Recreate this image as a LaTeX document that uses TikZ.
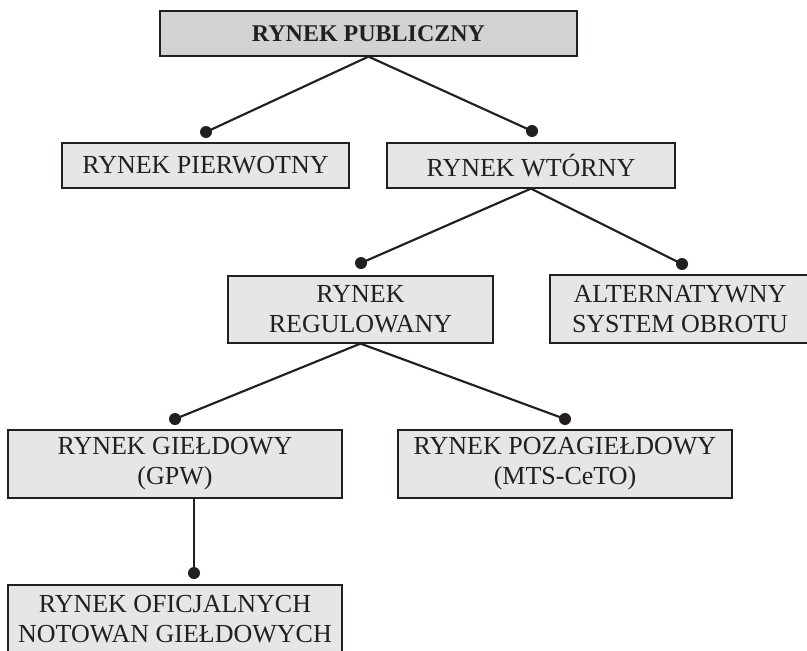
\documentclass[tikz,border=0pt]{standalone}
\usepackage{fontspec}
\setmainfont{Liberation Serif}
\definecolor{boxfill}{HTML}{E6E6E7}
\definecolor{topfill}{HTML}{D2D2D3}
\definecolor{ink}{HTML}{231F20}
\tikzset{
  box/.style={draw=ink, line width=0.9pt, fill=boxfill, text=ink, align=center, inner sep=0pt,
    font=\fontsize{19.5}{22.5}\selectfont},
  topbox/.style={box, fill=topfill, font=\fontsize{18}{21}\selectfont\bfseries},
  conn/.style={draw=ink, line width=1.6pt},
  dotmark/.style={circle, fill=ink, inner sep=0pt, minimum size=9pt}
}
\begin{document}
\begin{tikzpicture}[x=0.75pt, y=-0.75pt]
\useasboundingbox (0,0) rectangle (807,650);
\fill[white] (0,0) rectangle (807,650);

\node[topbox, minimum width=312.75pt, minimum height=33.75pt] (pub) at (368.5,33.5) {RYNEK PUBLICZNY};
\node[box, minimum width=215.25pt, minimum height=33.75pt] (pier) at (205.5,165.5) {RYNEK PIERWOTNY};
\node[box, minimum width=216pt, minimum height=33.75pt] (wtor) at (531,165.5) {RYNEK WTÓRNY};
\node[box, minimum width=198.75pt, minimum height=50.25pt] (reg) at (360.5,309.5) {RYNEK\\REGULOWANY};
\node[box, minimum width=195pt, minimum height=51pt] (alt) at (680,309) {ALTERNATYWNY\\SYSTEM OBROTU};
\node[box, minimum width=250.5pt, minimum height=51pt] (gield) at (175,464) {RYNEK GIEŁDOWY\\(GPW)};
\node[box, minimum width=250.5pt, minimum height=51pt] (poza) at (565,464) {RYNEK POZAGIEŁDOWY\\(MTS-CeTO)};
\node[box, minimum width=250.5pt, minimum height=51pt] (ofic) at (175,619) {RYNEK OFICJALNYCH\\NOTOWAN GIEŁDOWYCH};

\node[dotmark] (d1) at (206,132) {};
\node[dotmark] (d2) at (532,131) {};
\node[dotmark] (d3) at (361,263) {};
\node[dotmark] (d4) at (682,264) {};
\node[dotmark] (d5) at (175,419) {};
\node[dotmark] (d6) at (565,419) {};
\node[dotmark] (d7) at (194,573) {};

\draw[conn] (d1.center) -- (pub.south) -- (d2.center);
\draw[conn] (d3.center) -- (wtor.south) -- (d4.center);
\draw[conn] (d5.center) -- (reg.south) -- (d6.center);
\draw[conn] (d7.center |- gield.south) -- (d7.center);
\end{tikzpicture}
\end{document}
